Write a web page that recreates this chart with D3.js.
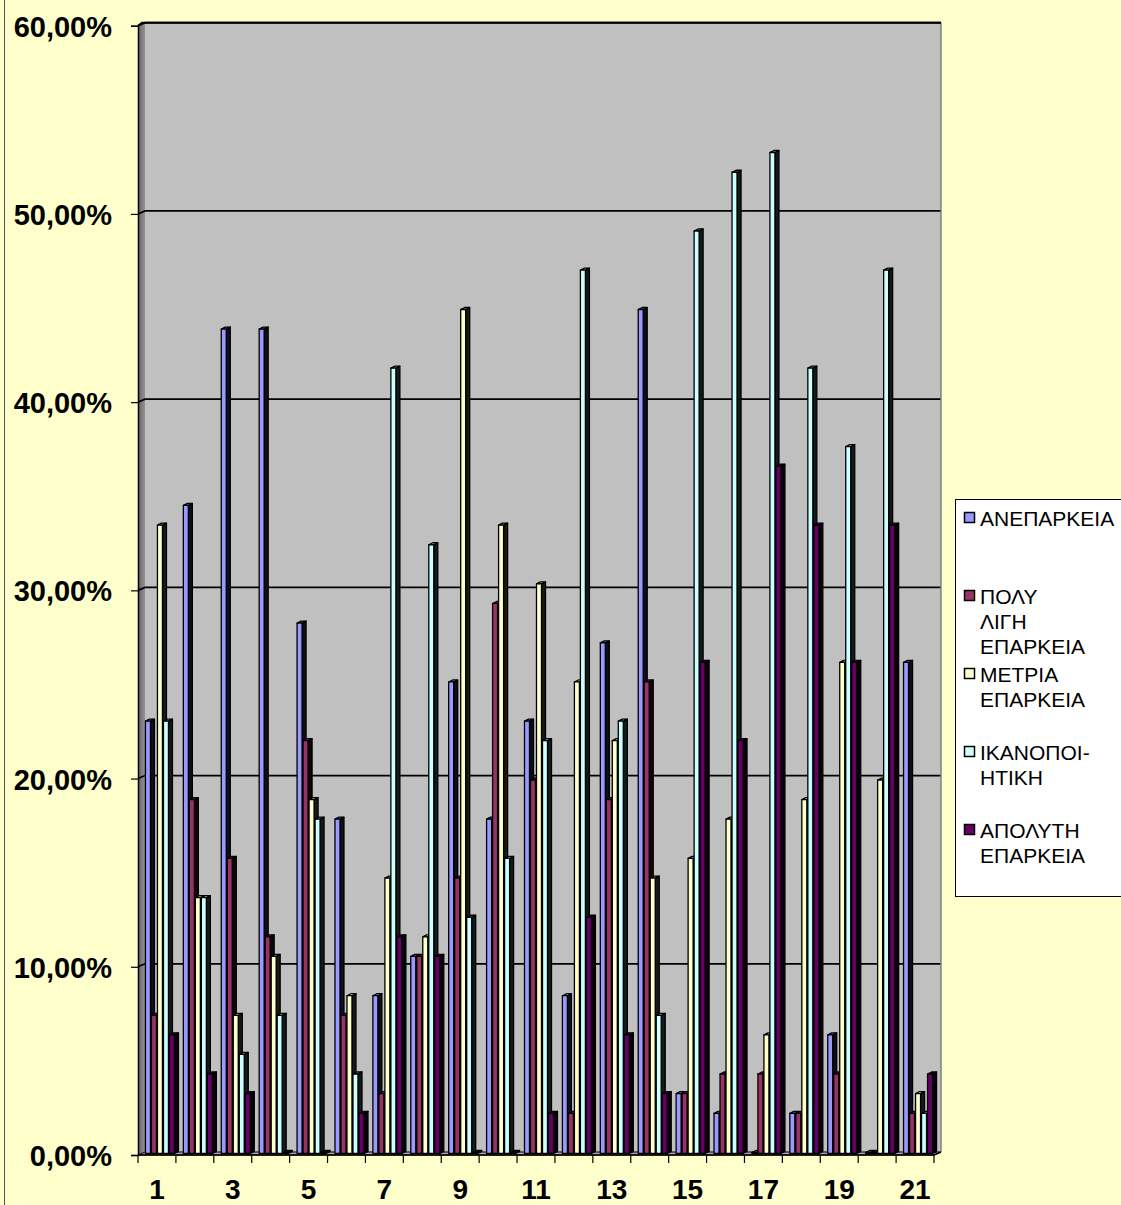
<!DOCTYPE html>
<html>
<head>
<meta charset="utf-8">
<script src="https://cdn.jsdelivr.net/npm/d3@7"></script>
<style>
  html, body { margin: 0; padding: 0; background: #FFFFCC; }
  svg { display: block; }
  text { font-family: "Liberation Sans", Arial, sans-serif; fill: #000; }
</style>
</head>
<body>
<script>
// Question numbers (x axis)
const categories = [1, 2, 3, 4, 5, 6, 7, 8, 9, 10, 11, 12, 13, 14, 15, 16, 17, 18, 19, 20, 21];
const tickLabels = [1, 3, 5, 7, 9, 11, 13, 15, 17, 19, 21];
const yTicks = [0, 10, 20, 30, 40, 50, 60];

// Response shares in percent, one array per answer level
const aneparkeia   = [22.92, 34.38, 43.75, 43.75, 28.13, 17.71, 8.33, 10.42, 25.00, 17.71, 22.92, 8.33, 27.08, 44.79, 3.13, 2.08, 0, 2.08, 6.25, 0, 26.04];
const polyLigi     = [7.29, 18.75, 15.63, 11.46, 21.88, 7.29, 3.13, 10.42, 14.58, 29.17, 19.79, 2.08, 18.75, 25.00, 3.13, 4.17, 4.17, 2.08, 4.17, 0, 2.08];
const metria       = [33.33, 13.54, 7.29, 10.42, 18.75, 8.33, 14.58, 11.46, 44.79, 33.33, 30.21, 25.00, 21.88, 14.58, 15.63, 17.71, 6.25, 18.75, 26.04, 19.79, 3.13];
const ikanopoiitiki = [22.92, 13.54, 5.21, 7.29, 17.71, 4.17, 41.67, 32.29, 12.50, 15.63, 21.88, 46.88, 22.92, 7.29, 48.96, 52.08, 53.13, 41.67, 37.50, 46.88, 2.08];
const apolyti      = [6.25, 4.17, 3.13, 0, 0, 2.08, 11.46, 10.42, 0, 0, 2.08, 12.50, 6.25, 3.13, 26.04, 21.88, 36.46, 33.33, 26.04, 33.33, 4.17];

const seriesValues = [aneparkeia, polyLigi, metria, ikanopoiitiki, apolyti];
const legendLines = [
  ["ΑΝΕΠΑΡΚΕΙΑ"],
  ["ΠΟΛΥ", "ΛΙΓΗ", "ΕΠΑΡΚΕΙΑ"],
  ["ΜΕΤΡΙΑ", "ΕΠΑΡΚΕΙΑ"],
  ["ΙΚΑΝΟΠΟΙ-", "ΗΤΙΚΗ"],
  ["ΑΠΟΛΥΤΗ", "ΕΠΑΡΚΕΙΑ"]
];
const seriesColors = ["#9999FF", "#993366", "#FFFFCC", "#CCFFFF", "#660066"];

const W = 1121, H = 1205;
const svg = d3.select("body").append("svg").attr("width", W).attr("height", H);

svg.append("rect").attr("width", W).attr("height", H).attr("fill", "#FFFFCC");
svg.append("line").attr("x1", 4.5).attr("x2", 4.5).attr("y1", 0).attr("y2", H)
  .attr("stroke", "#555").attr("stroke-width", 1);

// Front axis geometry and 3D depth offsets
const axisX0 = 138, axisX1 = 934;
const y = d3.scaleLinear().domain([0, 60]).range([1155, 25.7]);
const wallDX = 7, wallDY = -3;        // back wall offset
const barDX = 3.5, barDY = -1.5;      // bars sit halfway in depth
const sideDX = 4, sideDY = 2;         // bar side/top extrusion

const x = d3.scaleBand().domain(categories).range([axisX0, axisX1]);
const xs = d3.scaleBand().domain(d3.range(seriesValues.length)).range([0, 30]);
const clusterOffset = (x.bandwidth() - 30) / 2 + barDX;
const faceW = 5;

// Walls
const bx0 = axisX0 + wallDX, bx1 = axisX1 + wallDX;
svg.append("rect").attr("x", bx0).attr("y", y(60) + wallDY)
  .attr("width", bx1 - bx0).attr("height", y(0) - y(60))
  .attr("fill", "#C0C0C0");

const wallGrad = svg.append("defs").append("linearGradient").attr("id", "lw")
  .attr("x1", 0).attr("x2", 1).attr("y1", 0).attr("y2", 0);
wallGrad.append("stop").attr("offset", 0).attr("stop-color", "#666666");
wallGrad.append("stop").attr("offset", 1).attr("stop-color", "#929292");
svg.append("path")
  .attr("d", `M${axisX0},${y(60)} L${bx0},${y(60) + wallDY} L${bx0},${y(0) + wallDY} L${axisX0},${y(0)} Z`)
  .attr("fill", "url(#lw)");

// Floor
svg.append("path")
  .attr("d", `M${axisX0},${y(0)} L${axisX1},${y(0)} L${bx1},${y(0) + wallDY} L${bx0},${y(0) + wallDY} Z`)
  .attr("fill", "#A8A8A8").attr("stroke", "#000").attr("stroke-width", 1);

// Gridlines across the left wall and back wall
svg.append("g").selectAll("path").data(yTicks.filter(d => d > 0)).join("path")
  .attr("d", d => `M${axisX0},${y(d)} L${bx0},${y(d) + wallDY} L${bx1},${y(d) + wallDY}`)
  .attr("fill", "none").attr("stroke", "#000").attr("stroke-width", 1.7);

// Back wall right edge
svg.append("line").attr("x1", bx1).attr("x2", bx1)
  .attr("y1", y(60) + wallDY).attr("y2", y(0) + wallDY)
  .attr("stroke", "#808080").attr("stroke-width", 1.5);

// Bars
const yBar = v => y(v) + wallDY + 0.5;
const barBottom = y(0) + barDY;
const bars = svg.append("g").attr("stroke", "#000").attr("stroke-width", 1.3).attr("stroke-linejoin", "round");
categories.forEach((c, i) => {
  seriesValues.forEach((vals, j) => {
    const v = vals[i];
    const x0 = x(c) + clusterOffset + xs(j);
    const top = Math.min(yBar(v), barBottom - 0.5);
    const col = d3.color(seriesColors[j]);
    const side = d3.rgb(col.r * 0.1, col.g * 0.1, col.b * 0.1);
    // side face
    bars.append("path")
      .attr("d", `M${x0 + faceW},${top} L${x0 + faceW + sideDX},${top - sideDY} L${x0 + faceW + sideDX},${barBottom - sideDY} L${x0 + faceW},${barBottom} Z`)
      .attr("fill", side);
    // top face
    bars.append("path")
      .attr("d", `M${x0},${top} L${x0 + sideDX},${top - sideDY} L${x0 + faceW + sideDX},${top - sideDY} L${x0 + faceW},${top} Z`)
      .attr("fill", col.darker(0.3));
    // front face
    bars.append("rect")
      .attr("x", x0).attr("y", top)
      .attr("width", faceW).attr("height", barBottom - top)
      .attr("fill", col);
  });
});

// Top edge of the walls
svg.append("path")
  .attr("d", `M${axisX0},${y(60)} L${bx0 - 3},${y(60) + wallDY} L${bx1},${y(60) + wallDY}`)
  .attr("fill", "none").attr("stroke", "#000").attr("stroke-width", 2);

// Y axis
const fmt = d3.formatLocale({ decimal: ",", thousands: ".", grouping: [3], currency: ["", "€"] }).format(".2f");
const yAxis = svg.append("g").attr("transform", `translate(${axisX0},0)`)
  .call(d3.axisLeft(y).tickValues(yTicks).tickSize(7).tickPadding(19).tickFormat(d => fmt(d) + "%"));
yAxis.select(".domain").attr("stroke", "#000").attr("stroke-width", 1.5);
yAxis.selectAll(".tick line").attr("stroke", "#000").attr("stroke-width", 1.2);
yAxis.selectAll(".tick text")
  .attr("font-family", "Liberation Sans, Arial, sans-serif")
  .attr("font-size", 29).attr("font-weight", "bold").attr("fill", "#000")
  .attr("dy", "0.36em");

// X axis: line, boundary ticks, labels on every other category
const xg = svg.append("g");
xg.append("path")
  .attr("d", `M${axisX0},${y(0)} L${axisX1},${y(0)} L${bx1},${y(0) + wallDY}`)
  .attr("fill", "none").attr("stroke", "#000").attr("stroke-width", 1.5);
const bounds = categories.map(c => x(c)).concat([axisX1]);
xg.selectAll("line.tk").data(bounds).join("line").attr("class", "tk")
  .attr("x1", d => d).attr("x2", d => d)
  .attr("y1", y(0)).attr("y2", y(0) + 8)
  .attr("stroke", "#000").attr("stroke-width", 1.2);
xg.selectAll("text").data(tickLabels).join("text")
  .attr("x", d => x(d) + x.bandwidth() / 2)
  .attr("y", 1199)
  .attr("text-anchor", "middle")
  .attr("font-size", 28).attr("font-weight", "bold")
  .text(d => d);

// Legend
const lg = svg.append("g");
lg.append("rect").attr("x", 955.5).attr("y", 499.5).attr("width", 180).attr("height", 397)
  .attr("fill", "#fff").attr("stroke", "#000").attr("stroke-width", 1);
const lineH = 25.3;
legendLines.forEach((lines, i) => {
  const cy = 518 + i * 78;
  lg.append("rect").attr("x", 964.5).attr("y", cy - 5.5).attr("width", 10).attr("height", 10)
    .attr("fill", seriesColors[i]).attr("stroke", "#000").attr("stroke-width", 1.5);
  lines.forEach((t, k) => {
    lg.append("text").attr("x", 980).attr("y", cy + k * lineH)
      .attr("dy", "0.36em").attr("font-size", 21).text(t);
  });
});
</script>
</body>
</html>
